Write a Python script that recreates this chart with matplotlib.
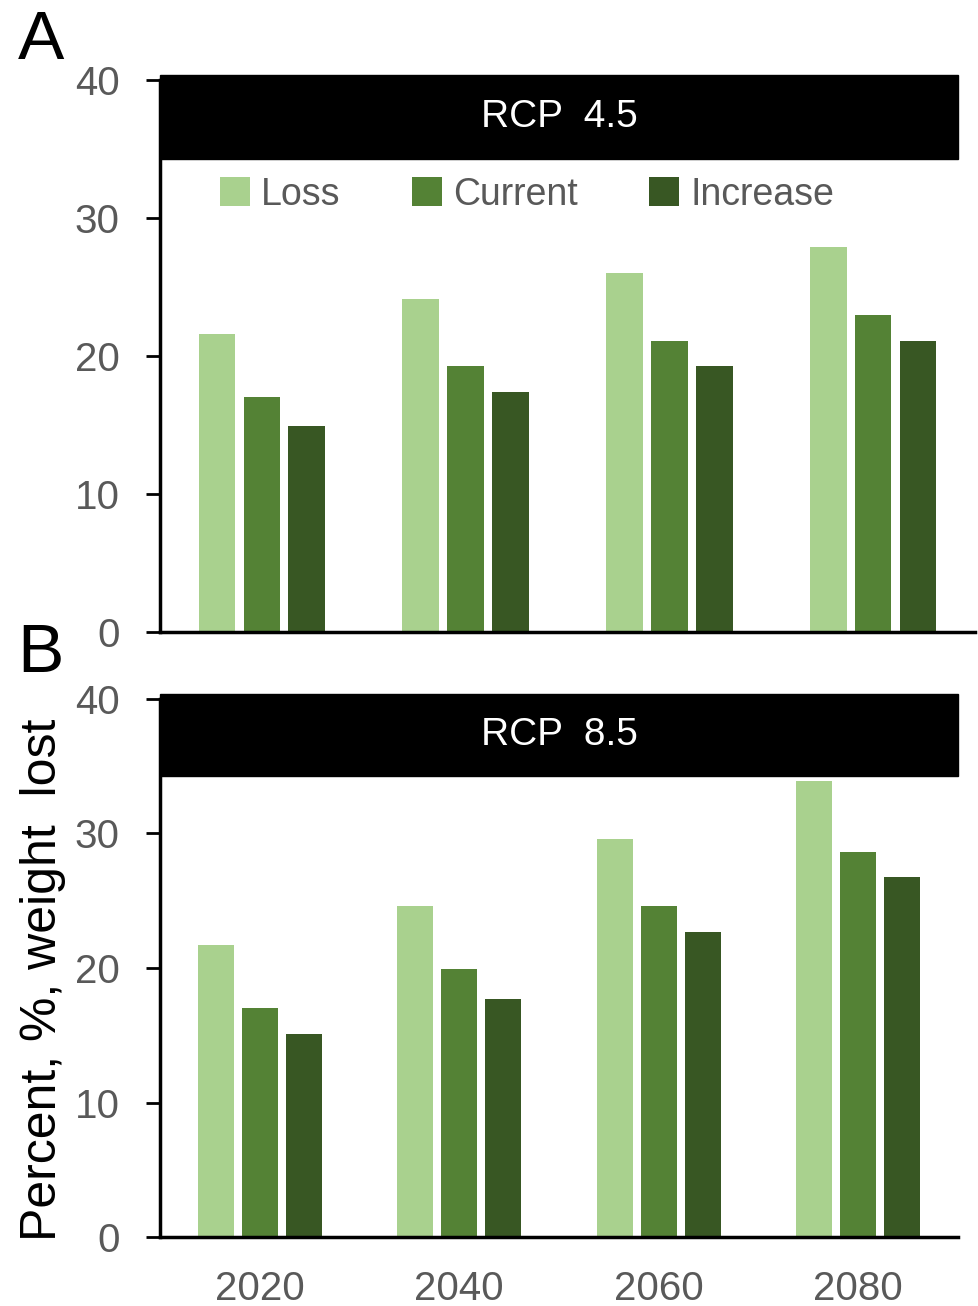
import numpy as np
import matplotlib
matplotlib.use("Agg")
import matplotlib.pyplot as plt
from matplotlib.patches import Rectangle
import matplotlib.transforms as mtransforms

plt.rcParams['font.family'] = ['Liberation Sans', 'DejaVu Sans']

years = ["2020", "2040", "2060", "2080"]
series = ["Loss", "Current", "Increase"]
colors = ["#a9d18e", "#548235", "#385723"]

# RCP 4.5
rcp45_loss = [21.6, 24.1, 26.0, 27.9]
rcp45_current = [17.0, 19.3, 21.1, 23.0]
rcp45_increase = [14.9, 17.4, 19.3, 21.1]

# RCP 8.5
rcp85_loss = [21.7, 24.6, 29.6, 33.9]
rcp85_current = [17.0, 19.9, 24.6, 28.6]
rcp85_increase = [15.1, 17.7, 22.7, 26.8]

gray = "#595959"
fig = plt.figure(figsize=(9.79, 13.06), dpi=100)
axA = fig.add_axes([0.1634, 0.5161, 0.8325, 0.4226])
axB = fig.add_axes([0.1634, 0.0528, 0.8151, 0.4120])


def draw(ax, vals, title, banner_right):
    x = np.arange(len(years))
    offs = [-0.22, 0.0, 0.22]
    for v, o, c, name in zip(vals, offs, colors, series):
        ax.bar(x + o, v, width=0.18, color=c, label=name, zorder=2)
    ax.set_xlim(-0.5, 3.5)
    ax.set_ylim(0, 40)
    ax.set_yticks([0, 10, 20, 30, 40])
    ax.tick_params(axis='y', length=10, width=2, labelsize=29, labelcolor=gray, pad=19)
    ax.tick_params(axis='x', length=0, labelsize=29, labelcolor=gray, pad=24)
    ax.set_xticks(x)
    for s in ['top', 'right']:
        ax.spines[s].set_visible(False)
    for s in ['left', 'bottom']:
        ax.spines[s].set_linewidth(2.5)
    trans = mtransforms.blended_transform_factory(ax.transAxes, ax.transData)
    ax.add_patch(Rectangle((0, 34.3), banner_right, 6.1, transform=trans,
                           color='black', clip_on=False, zorder=3))
    ax.text(banner_right / 2, 37.3, title, transform=trans, color='white',
            fontsize=28, ha='center', va='center', zorder=4)


draw(axA, [rcp45_loss, rcp45_current, rcp45_increase], "RCP  4.5", 0.979)
axA.set_xticklabels([])
draw(axB, [rcp85_loss, rcp85_current, rcp85_increase], "RCP  8.5", 1.0)
axB.set_xticklabels(years)

axA.legend(loc='center', bbox_to_anchor=(0.45, 0.792), ncol=3, frameon=False,
           fontsize=27, handlelength=0.8, handleheight=0.8, handletextpad=0.3,
           columnspacing=1.9, labelcolor=gray)

fig.text(0.018, 0.993, "A", fontsize=50, ha='left', va='top')
fig.text(0.018, 0.524, "B", fontsize=50, ha='left', va='top')
fig.text(0.044, 0.25, "Percent, %, weight  lost", fontsize=36, rotation=90,
         ha='center', va='center')

fig.savefig("out.png", dpi=100)
